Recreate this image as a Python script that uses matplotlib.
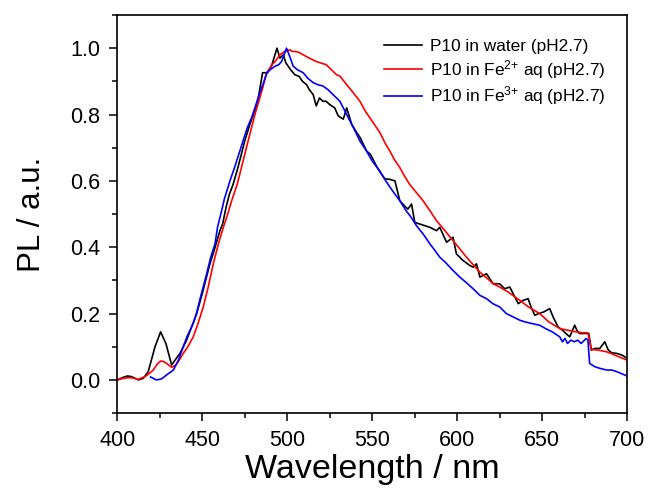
import numpy as np
import matplotlib
matplotlib.use("Agg")
import matplotlib.pyplot as plt
from matplotlib.ticker import MultipleLocator

plt.rcParams['font.family'] = ['Liberation Sans', 'DejaVu Sans']
plt.rcParams['mathtext.default'] = 'regular'

# P10 in water (pH2.7) - black
water_x = [400, 403.5, 406, 408.5, 412.4, 415.3, 418.2, 422.2, 425.5, 428.6, 432, 434, 436.9,
           440.8, 443, 446.7, 450, 454.5, 457, 460.4, 462, 464, 466, 468.2, 471, 475, 478,
           481.5, 483, 485.5, 488.5, 490.8, 492.5, 494, 495.7, 497.7, 499.2, 502, 504.5, 507,
           509, 511.4, 513, 515.3, 517.1, 519, 521, 522.9, 525, 528, 530, 533, 535, 538, 541,
           543, 546.7, 549, 551, 553, 555.5, 557.5, 560, 563.4, 566.3, 569, 571, 573.2, 575.1,
           578, 581, 584, 587.9, 589.8, 593.8, 597.6, 599.6, 603.5, 607.5, 609.5, 611.4, 613.4,
           617.3, 621.2, 625, 628, 631, 633, 636, 639, 641.8, 643.5, 645.7, 648, 651, 654.5,
           656.5, 659.4, 662, 664, 666.3, 669.2, 670.5, 672, 675, 677.5, 679, 681, 684, 686.9,
           689, 691, 694, 697, 698.6, 700]
water_y = [0.0, 0.008, 0.012, 0.01, 0.0, 0.005, 0.025, 0.10, 0.145, 0.11, 0.045, 0.06, 0.08,
           0.12, 0.15, 0.2, 0.26, 0.35, 0.39, 0.45, 0.47, 0.52, 0.56, 0.59, 0.64, 0.72, 0.77,
           0.82, 0.85, 0.926, 0.926, 0.946, 0.975, 1.0, 0.97, 0.98, 0.956, 0.935, 0.92, 0.915,
           0.90, 0.89, 0.875, 0.86, 0.826, 0.85, 0.84, 0.84, 0.83, 0.82, 0.796, 0.786, 0.82,
           0.77, 0.745, 0.73, 0.69, 0.68, 0.66, 0.64, 0.62, 0.606, 0.605, 0.60, 0.54, 0.525,
           0.515, 0.53, 0.475, 0.47, 0.465, 0.46, 0.45, 0.46, 0.415, 0.43, 0.38, 0.36, 0.345,
           0.34, 0.35, 0.31, 0.32, 0.29, 0.29, 0.275, 0.28, 0.26, 0.23, 0.24, 0.245, 0.22,
           0.195, 0.20, 0.205, 0.215, 0.19, 0.16, 0.15, 0.14, 0.13, 0.165, 0.15, 0.14, 0.14,
           0.14, 0.09, 0.095, 0.095, 0.115, 0.09, 0.082, 0.08, 0.075, 0.07, 0.065]

# P10 in Fe2+ aq (pH2.7) - red
fe2_x = [400, 403, 406.5, 409, 412.4, 416.3, 418.5, 421.2, 423.5, 425.5, 427, 429, 432, 434.5,
         436.5, 438.8, 441.5, 444.7, 447.5, 450.6, 453.5, 456.5, 459.5, 462.4, 465, 467.3,
         470.6, 476, 481, 485, 488, 491, 493, 495.7, 498.5, 501.6, 503, 505, 507, 509.4, 513,
         517, 520, 523, 526, 529, 531, 535, 539, 542.8, 546, 550, 554.5, 558, 560.4, 563,
         566.3, 569, 572, 576, 580, 584, 587.9, 592, 597.6, 601.6, 605.5, 609, 613.4, 618,
         621.2, 625.1, 630, 636.9, 642, 648.6, 654, 660.4, 665, 670, 674, 677, 679, 683,
         687.9, 692, 696, 700]
fe2_y = [0.0, 0.004, 0.007, 0.006, 0.002, 0.01, 0.018, 0.03, 0.048, 0.057, 0.056, 0.05, 0.038,
         0.045, 0.06, 0.08, 0.10, 0.13, 0.17, 0.22, 0.28, 0.35, 0.41, 0.46, 0.50, 0.54,
         0.59, 0.70, 0.80, 0.87, 0.926, 0.95, 0.96, 0.98, 0.99, 0.995, 0.99, 0.99, 0.987,
         0.98, 0.97, 0.96, 0.955, 0.95, 0.935, 0.92, 0.916, 0.89, 0.865, 0.84, 0.81, 0.78,
         0.746, 0.71, 0.69, 0.665, 0.64, 0.615, 0.59, 0.565, 0.54, 0.51, 0.48, 0.455, 0.42,
         0.395, 0.37, 0.35, 0.325, 0.305, 0.29, 0.28, 0.265, 0.24, 0.22, 0.20, 0.175, 0.155,
         0.15, 0.145, 0.142, 0.142, 0.092, 0.09, 0.085, 0.077, 0.068, 0.06]

# P10 in Fe3+ aq (pH2.7) - blue
fe3_x = [419.6, 423, 426, 429, 433, 436, 438.8, 441, 444.7, 446.6, 449, 452.6, 455, 457.5, 459,
         461.4, 463, 464.5, 466.3, 469, 471.5, 474, 476.5, 479, 481, 483.5, 486, 488, 490, 493,
         495, 496.7, 498.5, 499.6, 501.5, 503.5, 506, 509.4, 512, 515.3, 518, 521, 524, 527,
         531, 534, 537, 540, 542.8, 546.7, 550, 554.5, 558, 562, 566.3, 570, 573, 576.1, 580,
         584, 587, 589.8, 593, 597.6, 601.6, 605, 609.4, 613.4, 617.3, 621, 625.1, 629, 633,
         636.9, 640, 644, 648.6, 652, 656, 660.4, 662, 663.5, 665, 667, 669, 671, 673, 676,
         677, 678, 681, 684, 688, 691, 694, 698.6, 700]
fe3_y = [0.009, 0.0, 0.003, 0.015, 0.03, 0.06, 0.10, 0.13, 0.17, 0.20, 0.25, 0.32, 0.37, 0.41,
         0.46, 0.51, 0.545, 0.57, 0.60, 0.64, 0.68, 0.72, 0.76, 0.79, 0.82, 0.86, 0.895, 0.926,
         0.935, 0.946, 0.95, 0.96, 0.985, 1.0, 0.975, 0.946, 0.935, 0.926, 0.91, 0.896, 0.89,
         0.886, 0.875, 0.86, 0.84, 0.81, 0.78, 0.75, 0.72, 0.69, 0.66, 0.63, 0.60, 0.57, 0.54,
         0.51, 0.49, 0.465, 0.44, 0.41, 0.39, 0.37, 0.355, 0.33, 0.31, 0.295, 0.275, 0.255,
         0.245, 0.23, 0.22, 0.20, 0.19, 0.18, 0.175, 0.17, 0.165, 0.155, 0.145, 0.13, 0.115,
         0.125, 0.11, 0.12, 0.115, 0.12, 0.11, 0.125, 0.12, 0.05, 0.04, 0.035, 0.03, 0.03,
         0.025, 0.015, 0.012]

labels = ['P10 in water (pH2.7)', 'P10 in Fe$^{2{+}}$ aq (pH2.7)', 'P10 in Fe$^{3{+}}$ aq (pH2.7)']
colors = ['black', '#ff0000', '#0000ff']

fig = plt.figure(figsize=(6.48, 4.93), dpi=100)
ax = fig.add_axes([0.181, 0.162, 0.7866, 0.8076])

for xs, ys, lab, c in zip([water_x, fe2_x, fe3_x], [water_y, fe2_y, fe3_y], labels, colors):
    ax.plot(xs, ys, color=c, lw=1.2, label=lab)

ax.set_xlim(400, 700)
ax.set_ylim(-0.1, 1.1)
ax.xaxis.set_major_locator(MultipleLocator(50))
ax.xaxis.set_minor_locator(MultipleLocator(25))
ax.yaxis.set_major_locator(MultipleLocator(0.2))
ax.yaxis.set_minor_locator(MultipleLocator(0.1))
ax.yaxis.set_major_formatter(plt.FuncFormatter(lambda v, p: f"{v:.1f}"))
ax.tick_params(which='major', direction='out', length=6, width=1.1, labelsize=15.5, pad=6,
               top=False, right=False)
ax.tick_params(which='minor', direction='out', length=3.5, width=1.1, top=False, right=False)
for s in ax.spines.values():
    s.set_linewidth(1.2)

ax.set_xlabel('Wavelength / nm', fontsize=24.5, labelpad=2)
ax.set_ylabel('PL / a.u.', fontsize=22.5, labelpad=17)

ax.legend(loc='upper left', bbox_to_anchor=(0.524, 0.94), frameon=False, fontsize=12.4,
          handlelength=2.2, handletextpad=0.45, labelspacing=0.22, borderaxespad=0, borderpad=0)

fig.savefig('out.png', dpi=100)
